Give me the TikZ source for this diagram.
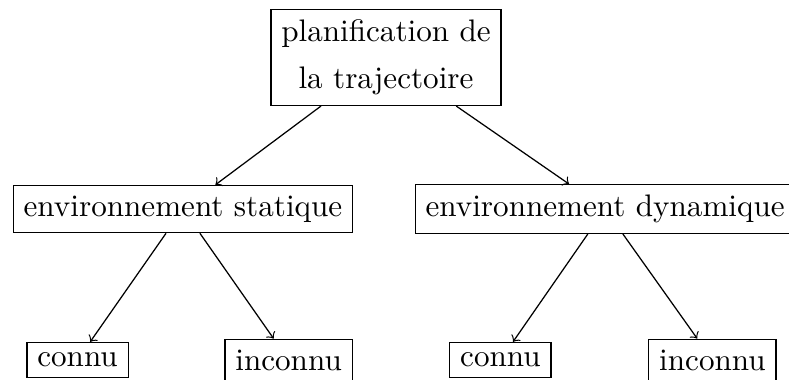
\documentclass[tikz,border=0pt]{standalone}
\usetikzlibrary{positioning}

\begin{document}
\begin{tikzpicture}[
  box/.style={draw, align=center},
  arr/.style={->}
]
\useasboundingbox (0,0) rectangle (8.905,-4.278);
\node[box] (plan) at (4.357,-0.649) {planification de\\[3pt]la trajectoire};
\node[box] (stat) at (2.065,-2.359) {environnement statique};
\node[box] (dyn) at (6.830,-2.359) {environnement dynamique};

\node[box] (sconnu) at (0.875,-4.063) {connu};
\node[box] (sinconnu) at (3.257,-4.063) {inconnu};
\node[box] (dconnu) at (5.648,-4.063) {connu};
\node[box] (dinconnu) at (8.041,-4.063) {inconnu};

\draw[arr] (plan) -- (stat);
\draw[arr] (plan) -- (dyn);
\draw[arr] (stat) -- (sconnu);
\draw[arr] (stat) -- (sinconnu);
\draw[arr] (dyn) -- (dconnu);
\draw[arr] (dyn) -- (dinconnu);
\end{tikzpicture}
\end{document}
